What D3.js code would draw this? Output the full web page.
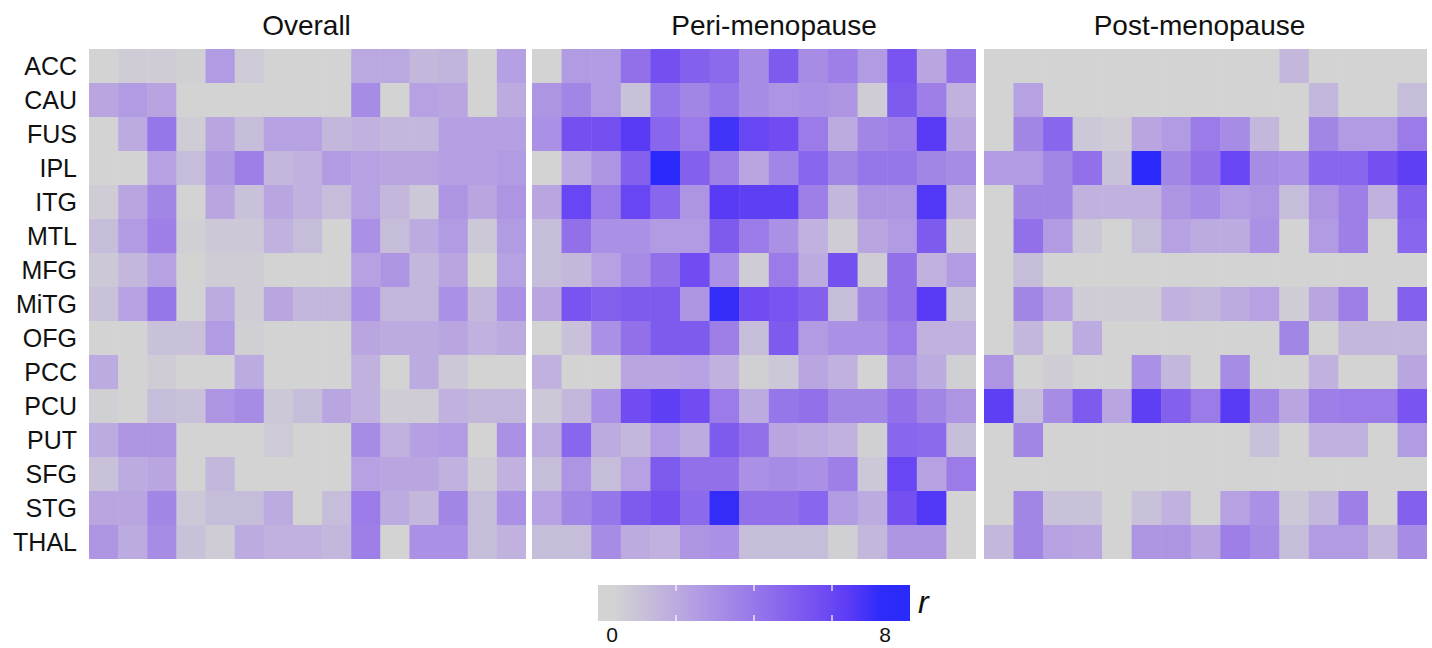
<!DOCTYPE html>
<html>
<head>
<meta charset="utf-8">
<script src="https://cdn.jsdelivr.net/npm/d3@7"></script>
<style>
  body { margin: 0; background: #fff; }
  text { font-family: "Liberation Sans", Arial, sans-serif; fill: #111; }
</style>
</head>
<body>
<div id="chart"></div>
<script>
const rows = ["ACC","CAU","FUS","IPL","ITG","MTL","MFG","MiTG","OFG","PCC","PCU","PUT","SFG","STG","THAL"];
const cols = [1,2,3,4,5,6,7,8,9,10,11,12,13,14,15];
const panelTitles = ["Overall", "Peri-menopause", "Post-menopause"];
const legendLabels = [0, 8];

// r values, one row per region
const overallValues = [
  [0,0.3,0.3,0.2,2.5,0.4,0,0,0,1.9,1.9,1.2,1.4,0,2.3],
  [2,2.5,2.1,0,0,0,0,0,0,3.2,0,2.2,2,0,1.8],
  [0,1.8,4.2,0.3,2,1,2.2,2.2,1.2,1.5,1.2,1.2,2.3,2.3,2.3],
  [0,0,2.2,1,2.6,3.8,1.2,1.5,2.5,2.2,2,2,2.3,2.3,2.5],
  [0.3,2,3.5,0,2,0.8,2,1.5,1,2.2,1.2,0.5,2.8,2,2.8],
  [1,2.5,3.8,0.2,0.5,0.5,1.5,1,0,3,1,1.8,2.5,0.5,2.5],
  [0.5,1.2,2.2,0,0.3,0.3,0,0,0,2.2,2.8,1.2,2,0,2.2],
  [0.8,2.2,4.2,0,1.8,0.3,2,1.3,1.2,3,1.3,1.3,3,1.2,3],
  [0,0,0.8,0.8,2.5,0.2,0,0,0,2,1.8,1.8,2,1.5,1.8],
  [1.8,0,0.3,0,0,1.8,0,0,0,1.5,0,1.8,0.5,0,0],
  [0.2,0,1,0.8,2.8,3.2,0.5,1,2,1.5,0.3,0.3,1.5,1.2,1.3],
  [1.8,2.8,2.8,0,0,0,0.4,0,0,3.2,1.5,2.3,2.5,0,3],
  [0.8,1.8,2,0,1.2,0,0,0,0,2.2,2,2,1.5,0.3,1.5],
  [2,2,3.5,0.5,1,1,1.8,0,1,4,1.8,1.2,3.5,1,3],
  [2.8,1.8,3.2,0.8,0.3,1.8,1.5,1.5,1.2,3.8,0,3,3,1,1.5]
];

const periValues = [
  [0,2.5,2.5,4.5,6,5.2,4.8,3.2,5.5,3.2,3.8,2.5,5.8,2,4.5],
  [2.8,3.5,2.5,0.8,4.2,3.5,4.2,3.2,2.8,3,2.8,0.3,5.5,3.8,1.5],
  [3,6,6,7,5,4,7.5,6.5,6.2,4,1.8,3.5,3.8,7,2],
  [0,1.8,2.8,5.2,8,5.2,3.8,2,3.5,5,3.5,4.2,4.2,3.5,3.2],
  [2,6.5,4,6.5,5,2.8,7,6.8,6.8,3.8,1.2,2.8,2.8,7.2,1.5],
  [1,4.5,3,3,2.5,2.5,5.5,4,3,1.5,0.3,2,2.5,5.5,0.3],
  [1,1.2,2.2,3.2,4.5,6.2,3,0.3,4,1.8,6,0.3,4.5,1.5,2.5],
  [2,5.8,5.2,5.5,5.5,2.8,7.8,6.2,5.8,5.2,1,3.5,4.5,7,0.8],
  [0,0.8,3,4.5,5.5,5.5,3.8,1,5.5,2.5,3,3,4,1.5,1.5],
  [1.5,0,0,2,2,2.2,1.5,0.2,0.5,2,1.5,0,2.8,1.8,0.2],
  [0.5,1.2,3,6.2,6.8,6.2,4,1.8,4.2,4.5,3.5,3.5,4.5,3.5,2.8],
  [1.8,5,1.8,1.2,2.5,1.8,5.5,4.5,2,1.8,1.5,0.2,5,4.8,1],
  [1,2.8,1,2.2,5.5,4.5,4.5,3,3.2,3,3.8,0.5,6.5,2.2,4],
  [2.2,3.5,4.2,5.5,6,4.8,7.8,4.5,4.5,5,2.5,1.8,6,7.2,0],
  [1,1,3.2,1.8,1.5,2.8,3,1,1,1,0.2,1.2,2.8,2.8,0]
];

const postValues = [
  [0,0,0,0,0,0,0,0,0,0,1.2,0,0,0,0],
  [0,2.2,0,0,0,0,0,0,0,0,0,1.2,0,0,1],
  [0,3.5,5,0.5,0.3,2,2.5,4,3.2,1.2,0,3.5,2.5,2.5,4],
  [2.5,2.5,3.5,4.5,0.8,8,3.5,4.5,6.5,3.2,3,5,5,6,6.8],
  [0,3.5,3.5,1.5,1.5,1.5,2.8,3.2,2.5,2.8,1,2.8,3.8,1.5,5.2],
  [0,4.5,2.5,0.5,0,1,2.2,1.8,1.8,3,0,2.5,3.8,0,5],
  [0,1,0,0,0,0,0,0,0,0,0,0,0,0,0],
  [0,3.5,2.2,0.3,0.3,0.3,1.5,1.2,1.8,2.2,0.3,2,3.8,0,5.2],
  [0,1.2,0,1.8,0,0,0,0,0,0,3.5,0,1.2,1.2,1.2],
  [2.8,0,0.3,0,0,3,1.2,0,3.2,0,0,1.5,0,0,2],
  [6.8,1,3.2,5.5,2,6.8,5.2,4,7,3.5,2,3.8,4,4,5.8],
  [0,3.5,0,0,0,0,0,0,0,0.8,0,1.5,1.5,0,2.5],
  [0,0,0,0,0,0,0,0,0,0,0,0,0,0,0],
  [0,3.5,0.8,0.8,0,0.8,1.5,0,2.2,3,0.5,1.2,3.8,0,5.2],
  [1.2,3.5,2.2,2,0,2.8,2.8,2,3.8,3.2,1,2.5,2.5,1.2,3.2]
];

const panelValues = [overallValues, periValues, postValues];

// layout
const width = 1432, height = 648;
const panels = [
  { x0: 89, x1: 526, titleShift: -1 },
  { x0: 532, x1: 976, titleShift: 20 },
  { x0: 984, x1: 1427, titleShift: -6 }
];
const gridTop = 49, gridBottom = 559;

const color = d3.scaleLinear()
  .domain([0, 2, 4, 6, 7, 8])
  .range(["#d3d3d3", "#b9a6e1", "#9a7be8", "#7550f1", "#5a3bf5", "#2a2afa"])
  .clamp(true);

const svg = d3.select("#chart").append("svg")
  .attr("width", width)
  .attr("height", height);

const yScale = d3.scaleBand().domain(rows).range([gridTop, gridBottom]).padding(0);

// row labels
svg.append("g")
  .selectAll("text")
  .data(rows)
  .join("text")
  .attr("x", 77)
  .attr("y", d => yScale(d) + yScale.bandwidth() / 2)
  .attr("dy", "0.36em")
  .attr("text-anchor", "end")
  .attr("font-size", 25)
  .text(d => d);

panels.forEach((p, i) => {
  const xScale = d3.scaleBand().domain(cols).range([p.x0, p.x1]).padding(0);
  const g = svg.append("g");

  const cells = [];
  panelValues[i].forEach((row, ri) => {
    row.forEach((v, ci) => cells.push({ row: rows[ri], col: cols[ci], value: v }));
  });

  g.selectAll("rect")
    .data(cells)
    .join("rect")
    .attr("x", d => xScale(d.col))
    .attr("y", d => yScale(d.row))
    .attr("width", d => xScale.bandwidth() + (d.col === cols[cols.length - 1] ? 0 : 0.5))
    .attr("height", d => yScale.bandwidth() + (d.row === rows[rows.length - 1] ? 0 : 0.5))
    .attr("fill", d => color(d.value));

  svg.append("text")
    .attr("x", (p.x0 + p.x1) / 2 + p.titleShift)
    .attr("y", 35)
    .attr("text-anchor", "middle")
    .attr("font-size", 28)
    .text(panelTitles[i]);
});

// colour bar legend
const legendScale = d3.scaleLinear().domain([-0.5, 8.8]).range([598, 910]);
const barTop = 585, barBottom = 621;

const grad = svg.append("defs").append("linearGradient")
  .attr("id", "rgrad")
  .attr("x1", "0%").attr("x2", "100%");
grad.selectAll("stop")
  .data(d3.range(0, 1.0001, 0.05))
  .join("stop")
  .attr("offset", t => (t * 100) + "%")
  .attr("stop-color", t => color(legendScale.domain()[0] + t * (legendScale.domain()[1] - legendScale.domain()[0])));

svg.append("rect")
  .attr("x", legendScale.range()[0])
  .attr("y", barTop)
  .attr("width", legendScale.range()[1] - legendScale.range()[0])
  .attr("height", barBottom - barTop)
  .attr("fill", "url(#rgrad)");

// white tick marks splitting the bar in quarters
const quarterX = [0.25, 0.5, 0.75].map(t => legendScale.range()[0] + t * (legendScale.range()[1] - legendScale.range()[0]));
quarterX.forEach(x => {
  [[barTop, barTop + 6], [barBottom - 6, barBottom]].forEach(([a, b]) => {
    svg.append("line")
      .attr("x1", x).attr("x2", x)
      .attr("y1", a).attr("y2", b)
      .attr("stroke", "#fff")
      .attr("stroke-opacity", 0.8)
      .attr("stroke-width", 1.5);
  });
});

const labelScale = d3.scaleLinear().domain([0, 8]).range([612, 885]);
svg.selectAll("text.leg")
  .data(legendLabels)
  .join("text")
  .attr("class", "leg")
  .attr("x", d => labelScale(d))
  .attr("y", 642)
  .attr("text-anchor", "middle")
  .attr("font-size", 21)
  .text(d => d);

svg.append("text")
  .attr("x", 918)
  .attr("y", 613)
  .attr("font-size", 32)
  .attr("font-style", "italic")
  .text("r");
</script>
</body>
</html>
